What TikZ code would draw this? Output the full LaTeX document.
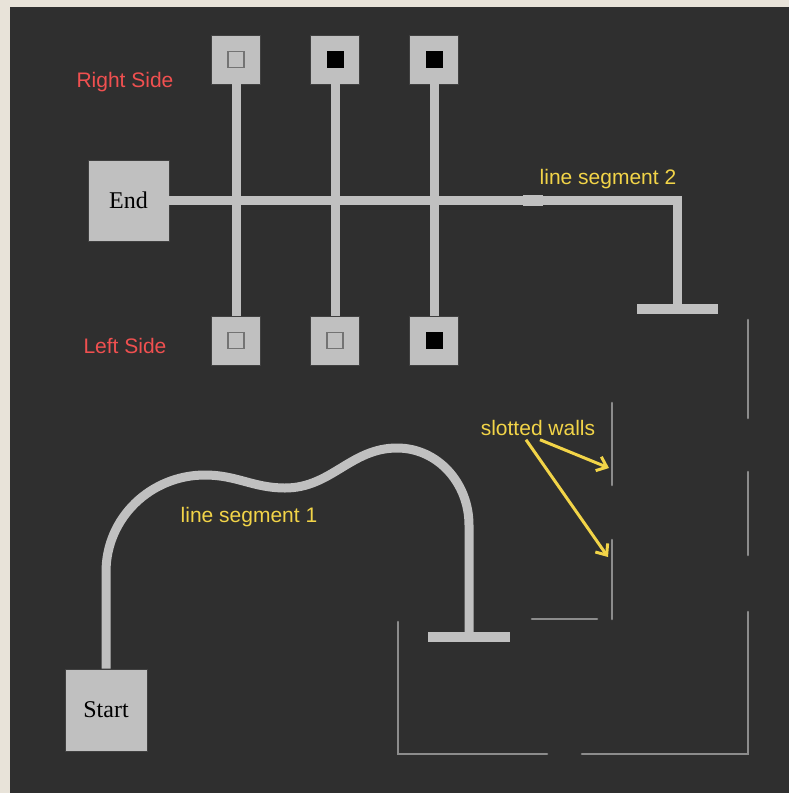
\documentclass[tikz,border=0pt]{standalone}
\usepackage{fontspec}
\setmainfont{Liberation Sans}
\newfontfamily\boxfont{Liberation Serif}
\usetikzlibrary{positioning, arrows.meta}
\definecolor{paper}{RGB}{232,227,217}
\definecolor{board}{RGB}{47,47,47}
\definecolor{track}{RGB}{192,192,192}
\definecolor{wallc}{RGB}{140,140,140}
\definecolor{redlbl}{RGB}{240,80,80}
\definecolor{yellbl}{RGB}{242,212,72}

\begin{document}
\begin{tikzpicture}[x=1pt, y=-1pt,
  every node/.style={font=\fontsize{21}{25}\selectfont},
  blk/.style={rectangle, fill=track, draw=black!75, line width=0.6pt, inner sep=0pt},
  big/.style={blk, minimum size=81pt, font=\boxfont\fontsize{24}{28}\selectfont},
  sens/.style={blk, minimum size=49pt},
  off/.style={rectangle, draw=black!55, line width=1.2pt, minimum size=16pt, inner sep=0pt},
  on/.style={rectangle, fill=black, minimum size=17pt, inner sep=0pt},
  trk/.style={track, line width=9pt},
  wall/.style={wallc, line width=2.6pt, line cap=round},
  note/.style={yellbl, anchor=base},
  side/.style={redlbl, anchor=base},
  ptr/.style={-{Straight Barb[length=9pt, width=15pt]}, yellbl, line width=3pt}]
  \useasboundingbox (0,0) rectangle (789,793);
  \fill[paper] (0,0) rectangle (789,793);
  \fill[board] (10,7) rectangle (789,793);
  % line segment 2 and the sensor rail
  \node[big] (end) at (128.5,200.5) {\raisebox{-3pt}{End}};
  \node[sens] (t1) at (236,59.5) {};
  \node[sens] (t2) at (335,59.5) {};
  \node[sens] (t3) at (434,59.5) {};
  \node[sens] (b1) at (236,340.5) {};
  \node[sens] (b2) at (335,340.5) {};
  \node[sens] (b3) at (434,340.5) {};
  \draw[trk] (t1) -- (b1);
  \draw[trk] (t2) -- (b2);
  \draw[trk] (t3) -- (b3);
  \node[off] at (t1) {};
  \node[on] at (t2) {};
  \node[on] at (t3) {};
  \node[off] at (b1) {};
  \node[off] at (b2) {};
  \node[on] at (b3) {};
  \coordinate (turn2) at (677,200.5);
  \node[rectangle, fill=track, minimum width=81pt, minimum height=10pt, inner sep=0pt] (bar2) at (677,309) {};
  \draw[trk, line join=miter] (end.east) -- (turn2) -- (bar2.center);
  \node[rectangle, fill=track, minimum width=20pt, minimum height=11pt, inner sep=0pt] (joint) at (533,200.5) {};
  % line segment 1
  \node[big, minimum size=82pt] (start) at (106,710) {\raisebox{-3pt}{Start}};
  \node[rectangle, fill=track, minimum width=82pt, minimum height=10pt, inner sep=0pt] (bar1) at (469,637) {};
  \draw[trk, line join=round] (start.north) -- (106,572) to[out=90, in=180] (205,475)
    to[out=0, in=180] (285,488) to[out=0, in=180] (397,448)
    to[out=0, in=90] (469,525) -- (bar1.center);
  % walls
  \draw[wall] (748,320) -- (748,418);
  \draw[wall] (748,472) -- (748,555);
  \draw[wall] (748,612) -- (748,754) -- (582,754);
  \draw[wall] (547,754) -- (398,754) -- (398,622);
  \draw[wall] (612,403) -- (612,485);
  \draw[wall] (612,540) -- (612,619);
  \draw[wall] (532,619) -- (597,619);
  % labels
  \node[side] (rs) at (125,87) {Right Side};
  \node[side] (ls) at (125,353) {Left Side};
  \node[note] (ls2) at (608,184) {line segment 2};
  \node[note] (ls1) at (249,522) {line segment 1};
  \node[note] (sw) at (538,435) {slotted walls};
  \coordinate (w1) at (609,468);
  \coordinate (w2) at (608,557);
  \draw[ptr] ([xshift=2pt, yshift=-1pt]sw.south) -- (w1);
  \draw[ptr] ([xshift=-12pt, yshift=-1pt]sw.south) -- (w2);
\end{tikzpicture}
\end{document}
